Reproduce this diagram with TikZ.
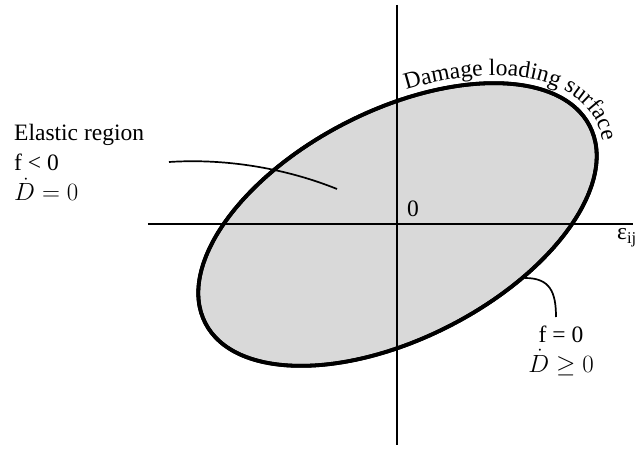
\documentclass[tikz,border=0pt]{standalone}
\usepackage{amsmath,amssymb}
\usepackage{fontspec}
\setmainfont{Liberation Serif}
\usepackage{tikz}
\usetikzlibrary{decorations.text}
\newcommand{\labelfont}{\fontsize{23.5}{30}\selectfont}

\begin{document}
\begin{tikzpicture}[
  x=1pt, y=1pt,
  every node/.style={
    font=\labelfont, inner sep=0pt
  },
  axisline/.style={draw, line width=2pt},
  surface/.style={draw, line width=3.8pt, fill=black!15},
  leader/.style={draw, line width=1.7pt}
]
\useasboundingbox (-397.5,-225.5) rectangle (237.5,224.5);

\path[surface, rotate=27.1] (0,0) ellipse[x radius=216pt, y radius=114pt];
\draw[axisline] (-249.5,0) -- (235.5,0);
\draw[axisline] (0,219.5) -- (0,-220.5);
\draw[line width=3.8pt, rotate=27.1] (0,0) ellipse[x radius=216pt, y radius=114pt];

\node[anchor=base west] (origin) at (9.5,8.5) {0};
\node[anchor=base west] (strain) at (219.5,-15.5) {ε\textsubscript{ij}};

\node[anchor=base west, align=left] (elastic) at (-383.5,23.5)
  {Elastic region\\ f < 0\\ $\dot{D} = 0$};
\node[anchor=base, align=center] (loading) at (163.5,-147.5)
  {f = 0\\ $\dot{D} \geq 0$};

% leaders
\coordinate (elasticstart) at (-228.5,62.5);
\coordinate (elasticend) at (-60.5,35.5);
\coordinate (surfacept) at (127.5,-53.5);
\coordinate (loadingtop) at (158.5,-92.5);
\path[leader] (elasticstart) .. controls (-167.5,66.5) and (-107.5,54.5) .. (elasticend);
\path[leader] (surfacept) .. controls (152.5,-53.5) and (158.5,-67.5) .. (loadingtop);

% curved label
\path[rotate=27.1, postaction={decorate},
  decoration={text along path, text align=left,
    text={|\labelfont|Damage loading surface}}]
  (72:224pt and 122pt) arc[start angle=72, end angle=-40, x radius=224pt, y radius=122pt];

\end{tikzpicture}
\end{document}
